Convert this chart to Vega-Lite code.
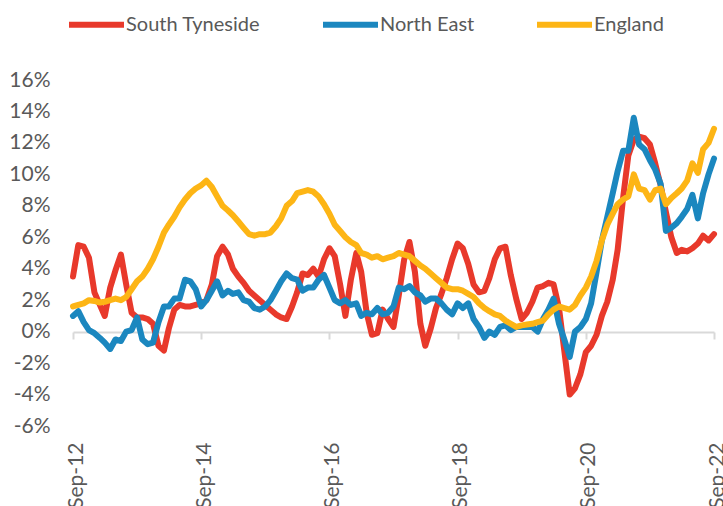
{
"$schema":"https://vega.github.io/schema/vega-lite/v6.json",
"width":641,"height":346,
"autosize":{"type":"none"},
"padding":{"left":73,"top":80,"right":9,"bottom":80},
"background":"white",
"config":{"view":{"stroke":null},"font":"Lato"},
"data":{"format":{"parse":{"m":"date:'%b-%y'"}},"values":[
{"s":"South Tyneside","m":"Sep-12","v":3.5},{"s":"South Tyneside","m":"Oct-12","v":5.5},{"s":"South Tyneside","m":"Nov-12","v":5.4},{"s":"South Tyneside","m":"Dec-12","v":4.7},
{"s":"South Tyneside","m":"Jan-13","v":2.5},{"s":"South Tyneside","m":"Feb-13","v":1.7},{"s":"South Tyneside","m":"Mar-13","v":1.0},{"s":"South Tyneside","m":"Apr-13","v":2.8},{"s":"South Tyneside","m":"May-13","v":3.9},{"s":"South Tyneside","m":"Jun-13","v":4.9},{"s":"South Tyneside","m":"Jul-13","v":3.0},{"s":"South Tyneside","m":"Aug-13","v":1.2},{"s":"South Tyneside","m":"Sep-13","v":0.9},{"s":"South Tyneside","m":"Oct-13","v":0.9},{"s":"South Tyneside","m":"Nov-13","v":0.8},{"s":"South Tyneside","m":"Dec-13","v":0.5},
{"s":"South Tyneside","m":"Jan-14","v":-0.9},{"s":"South Tyneside","m":"Feb-14","v":-1.2},{"s":"South Tyneside","m":"Mar-14","v":0.2},{"s":"South Tyneside","m":"Apr-14","v":1.4},{"s":"South Tyneside","m":"May-14","v":1.7},{"s":"South Tyneside","m":"Jun-14","v":1.6},{"s":"South Tyneside","m":"Jul-14","v":1.6},{"s":"South Tyneside","m":"Aug-14","v":1.7},{"s":"South Tyneside","m":"Sep-14","v":1.8},{"s":"South Tyneside","m":"Oct-14","v":2.0},{"s":"South Tyneside","m":"Nov-14","v":3.0},{"s":"South Tyneside","m":"Dec-14","v":4.8},
{"s":"South Tyneside","m":"Jan-15","v":5.4},{"s":"South Tyneside","m":"Feb-15","v":4.9},{"s":"South Tyneside","m":"Mar-15","v":4.0},{"s":"South Tyneside","m":"Apr-15","v":3.5},{"s":"South Tyneside","m":"May-15","v":3.1},{"s":"South Tyneside","m":"Jun-15","v":2.6},{"s":"South Tyneside","m":"Jul-15","v":2.3},{"s":"South Tyneside","m":"Aug-15","v":2.0},{"s":"South Tyneside","m":"Sep-15","v":1.7},{"s":"South Tyneside","m":"Oct-15","v":1.4},{"s":"South Tyneside","m":"Nov-15","v":1.1},{"s":"South Tyneside","m":"Dec-15","v":0.9},
{"s":"South Tyneside","m":"Jan-16","v":0.8},{"s":"South Tyneside","m":"Feb-16","v":1.6},{"s":"South Tyneside","m":"Mar-16","v":2.5},{"s":"South Tyneside","m":"Apr-16","v":3.7},{"s":"South Tyneside","m":"May-16","v":3.6},{"s":"South Tyneside","m":"Jun-16","v":4.0},{"s":"South Tyneside","m":"Jul-16","v":3.5},{"s":"South Tyneside","m":"Aug-16","v":4.6},{"s":"South Tyneside","m":"Sep-16","v":5.3},{"s":"South Tyneside","m":"Oct-16","v":4.8},{"s":"South Tyneside","m":"Nov-16","v":3.0},{"s":"South Tyneside","m":"Dec-16","v":1.0},
{"s":"South Tyneside","m":"Jan-17","v":3.3},{"s":"South Tyneside","m":"Feb-17","v":5.0},{"s":"South Tyneside","m":"Mar-17","v":3.8},{"s":"South Tyneside","m":"Apr-17","v":1.2},{"s":"South Tyneside","m":"May-17","v":-0.2},{"s":"South Tyneside","m":"Jun-17","v":-0.1},{"s":"South Tyneside","m":"Jul-17","v":1.4},{"s":"South Tyneside","m":"Aug-17","v":0.8},{"s":"South Tyneside","m":"Sep-17","v":0.3},{"s":"South Tyneside","m":"Oct-17","v":2.3},{"s":"South Tyneside","m":"Nov-17","v":4.6},{"s":"South Tyneside","m":"Dec-17","v":5.7},
{"s":"South Tyneside","m":"Jan-18","v":3.8},{"s":"South Tyneside","m":"Feb-18","v":0.5},{"s":"South Tyneside","m":"Mar-18","v":-0.9},{"s":"South Tyneside","m":"Apr-18","v":0.2},{"s":"South Tyneside","m":"May-18","v":1.5},{"s":"South Tyneside","m":"Jun-18","v":2.4},{"s":"South Tyneside","m":"Jul-18","v":3.4},{"s":"South Tyneside","m":"Aug-18","v":4.6},{"s":"South Tyneside","m":"Sep-18","v":5.6},{"s":"South Tyneside","m":"Oct-18","v":5.3},{"s":"South Tyneside","m":"Nov-18","v":4.3},{"s":"South Tyneside","m":"Dec-18","v":3.0},
{"s":"South Tyneside","m":"Jan-19","v":2.5},{"s":"South Tyneside","m":"Feb-19","v":2.6},{"s":"South Tyneside","m":"Mar-19","v":3.4},{"s":"South Tyneside","m":"Apr-19","v":4.6},{"s":"South Tyneside","m":"May-19","v":5.3},{"s":"South Tyneside","m":"Jun-19","v":5.4},{"s":"South Tyneside","m":"Jul-19","v":3.6},{"s":"South Tyneside","m":"Aug-19","v":2.1},{"s":"South Tyneside","m":"Sep-19","v":0.8},{"s":"South Tyneside","m":"Oct-19","v":1.2},{"s":"South Tyneside","m":"Nov-19","v":1.9},{"s":"South Tyneside","m":"Dec-19","v":2.8},
{"s":"South Tyneside","m":"Jan-20","v":2.9},{"s":"South Tyneside","m":"Feb-20","v":3.1},{"s":"South Tyneside","m":"Mar-20","v":3.0},{"s":"South Tyneside","m":"Apr-20","v":1.5},{"s":"South Tyneside","m":"May-20","v":-1.2},{"s":"South Tyneside","m":"Jun-20","v":-4.0},{"s":"South Tyneside","m":"Jul-20","v":-3.6},{"s":"South Tyneside","m":"Aug-20","v":-2.7},{"s":"South Tyneside","m":"Sep-20","v":-1.3},{"s":"South Tyneside","m":"Oct-20","v":-0.9},{"s":"South Tyneside","m":"Nov-20","v":-0.2},{"s":"South Tyneside","m":"Dec-20","v":1.0},
{"s":"South Tyneside","m":"Jan-21","v":1.9},{"s":"South Tyneside","m":"Feb-21","v":3.3},{"s":"South Tyneside","m":"Mar-21","v":5.2},{"s":"South Tyneside","m":"Apr-21","v":8.5},{"s":"South Tyneside","m":"May-21","v":11.2},{"s":"South Tyneside","m":"Jun-21","v":12.2},{"s":"South Tyneside","m":"Jul-21","v":12.4},{"s":"South Tyneside","m":"Aug-21","v":12.3},{"s":"South Tyneside","m":"Sep-21","v":11.9},{"s":"South Tyneside","m":"Oct-21","v":10.7},{"s":"South Tyneside","m":"Nov-21","v":9.3},{"s":"South Tyneside","m":"Dec-21","v":7.6},
{"s":"South Tyneside","m":"Jan-22","v":6.0},{"s":"South Tyneside","m":"Feb-22","v":5.0},{"s":"South Tyneside","m":"Mar-22","v":5.2},{"s":"South Tyneside","m":"Apr-22","v":5.1},{"s":"South Tyneside","m":"May-22","v":5.3},{"s":"South Tyneside","m":"Jun-22","v":5.6},{"s":"South Tyneside","m":"Jul-22","v":6.1},{"s":"South Tyneside","m":"Aug-22","v":5.8},{"s":"South Tyneside","m":"Sep-22","v":6.2},
{"s":"North East","m":"Sep-12","v":1.0},{"s":"North East","m":"Oct-12","v":1.3},{"s":"North East","m":"Nov-12","v":0.6},{"s":"North East","m":"Dec-12","v":0.1},
{"s":"North East","m":"Jan-13","v":-0.1},{"s":"North East","m":"Feb-13","v":-0.4},{"s":"North East","m":"Mar-13","v":-0.7},{"s":"North East","m":"Apr-13","v":-1.1},{"s":"North East","m":"May-13","v":-0.5},{"s":"North East","m":"Jun-13","v":-0.6},{"s":"North East","m":"Jul-13","v":0.0},{"s":"North East","m":"Aug-13","v":0.1},{"s":"North East","m":"Sep-13","v":0.9},{"s":"North East","m":"Oct-13","v":-0.5},{"s":"North East","m":"Nov-13","v":-0.8},{"s":"North East","m":"Dec-13","v":-0.7},
{"s":"North East","m":"Jan-14","v":0.6},{"s":"North East","m":"Feb-14","v":1.6},{"s":"North East","m":"Mar-14","v":1.6},{"s":"North East","m":"Apr-14","v":2.1},{"s":"North East","m":"May-14","v":2.1},{"s":"North East","m":"Jun-14","v":3.3},{"s":"North East","m":"Jul-14","v":3.2},{"s":"North East","m":"Aug-14","v":2.7},{"s":"North East","m":"Sep-14","v":1.6},{"s":"North East","m":"Oct-14","v":2.0},{"s":"North East","m":"Nov-14","v":2.6},{"s":"North East","m":"Dec-14","v":3.2},
{"s":"North East","m":"Jan-15","v":2.3},{"s":"North East","m":"Feb-15","v":2.6},{"s":"North East","m":"Mar-15","v":2.4},{"s":"North East","m":"Apr-15","v":2.5},{"s":"North East","m":"May-15","v":2.0},{"s":"North East","m":"Jun-15","v":1.9},{"s":"North East","m":"Jul-15","v":1.5},{"s":"North East","m":"Aug-15","v":1.4},{"s":"North East","m":"Sep-15","v":1.6},{"s":"North East","m":"Oct-15","v":2.0},{"s":"North East","m":"Nov-15","v":2.6},{"s":"North East","m":"Dec-15","v":3.2},
{"s":"North East","m":"Jan-16","v":3.7},{"s":"North East","m":"Feb-16","v":3.4},{"s":"North East","m":"Mar-16","v":3.3},{"s":"North East","m":"Apr-16","v":2.6},{"s":"North East","m":"May-16","v":2.8},{"s":"North East","m":"Jun-16","v":2.8},{"s":"North East","m":"Jul-16","v":3.3},{"s":"North East","m":"Aug-16","v":3.6},{"s":"North East","m":"Sep-16","v":2.8},{"s":"North East","m":"Oct-16","v":2.0},{"s":"North East","m":"Nov-16","v":1.8},{"s":"North East","m":"Dec-16","v":2.0},
{"s":"North East","m":"Jan-17","v":1.7},{"s":"North East","m":"Feb-17","v":1.8},{"s":"North East","m":"Mar-17","v":1.0},{"s":"North East","m":"Apr-17","v":1.2},{"s":"North East","m":"May-17","v":1.1},{"s":"North East","m":"Jun-17","v":1.5},{"s":"North East","m":"Jul-17","v":1.1},{"s":"North East","m":"Aug-17","v":1.2},{"s":"North East","m":"Sep-17","v":1.6},{"s":"North East","m":"Oct-17","v":2.8},{"s":"North East","m":"Nov-17","v":2.7},{"s":"North East","m":"Dec-17","v":2.9},
{"s":"North East","m":"Jan-18","v":2.5},{"s":"North East","m":"Feb-18","v":2.3},{"s":"North East","m":"Mar-18","v":1.9},{"s":"North East","m":"Apr-18","v":2.1},{"s":"North East","m":"May-18","v":2.1},{"s":"North East","m":"Jun-18","v":1.8},{"s":"North East","m":"Jul-18","v":1.4},{"s":"North East","m":"Aug-18","v":1.1},{"s":"North East","m":"Sep-18","v":1.8},{"s":"North East","m":"Oct-18","v":1.5},{"s":"North East","m":"Nov-18","v":1.8},{"s":"North East","m":"Dec-18","v":0.8},
{"s":"North East","m":"Jan-19","v":0.3},{"s":"North East","m":"Feb-19","v":-0.4},{"s":"North East","m":"Mar-19","v":0.0},{"s":"North East","m":"Apr-19","v":-0.2},{"s":"North East","m":"May-19","v":0.3},{"s":"North East","m":"Jun-19","v":0.4},{"s":"North East","m":"Jul-19","v":0.1},{"s":"North East","m":"Aug-19","v":0.3},{"s":"North East","m":"Sep-19","v":0.3},{"s":"North East","m":"Oct-19","v":0.3},{"s":"North East","m":"Nov-19","v":0.3},{"s":"North East","m":"Dec-19","v":0.0},
{"s":"North East","m":"Jan-20","v":0.8},{"s":"North East","m":"Feb-20","v":1.4},{"s":"North East","m":"Mar-20","v":2.1},{"s":"North East","m":"Apr-20","v":0.5},{"s":"North East","m":"May-20","v":-0.5},{"s":"North East","m":"Jun-20","v":-1.6},{"s":"North East","m":"Jul-20","v":0.0},{"s":"North East","m":"Aug-20","v":0.3},{"s":"North East","m":"Sep-20","v":0.8},{"s":"North East","m":"Oct-20","v":1.8},{"s":"North East","m":"Nov-20","v":3.8},{"s":"North East","m":"Dec-20","v":5.8},
{"s":"North East","m":"Jan-21","v":7.3},{"s":"North East","m":"Feb-21","v":8.8},{"s":"North East","m":"Mar-21","v":10.2},{"s":"North East","m":"Apr-21","v":11.5},{"s":"North East","m":"May-21","v":11.5},{"s":"North East","m":"Jun-21","v":13.6},{"s":"North East","m":"Jul-21","v":11.9},{"s":"North East","m":"Aug-21","v":11.6},{"s":"North East","m":"Sep-21","v":10.9},{"s":"North East","m":"Oct-21","v":10.3},{"s":"North East","m":"Nov-21","v":9.4},{"s":"North East","m":"Dec-21","v":6.4},
{"s":"North East","m":"Jan-22","v":6.6},{"s":"North East","m":"Feb-22","v":6.9},{"s":"North East","m":"Mar-22","v":7.3},{"s":"North East","m":"Apr-22","v":7.8},{"s":"North East","m":"May-22","v":8.7},{"s":"North East","m":"Jun-22","v":7.2},{"s":"North East","m":"Jul-22","v":8.8},{"s":"North East","m":"Aug-22","v":10.0},{"s":"North East","m":"Sep-22","v":11.0},
{"s":"England","m":"Sep-12","v":1.6},{"s":"England","m":"Oct-12","v":1.7},{"s":"England","m":"Nov-12","v":1.8},{"s":"England","m":"Dec-12","v":2.0},
{"s":"England","m":"Jan-13","v":1.95},{"s":"England","m":"Feb-13","v":1.85},{"s":"England","m":"Mar-13","v":1.9},{"s":"England","m":"Apr-13","v":2.0},{"s":"England","m":"May-13","v":2.1},{"s":"England","m":"Jun-13","v":2.0},{"s":"England","m":"Jul-13","v":2.2},{"s":"England","m":"Aug-13","v":2.7},{"s":"England","m":"Sep-13","v":3.2},{"s":"England","m":"Oct-13","v":3.5},{"s":"England","m":"Nov-13","v":4.0},{"s":"England","m":"Dec-13","v":4.6},
{"s":"England","m":"Jan-14","v":5.4},{"s":"England","m":"Feb-14","v":6.3},{"s":"England","m":"Mar-14","v":6.8},{"s":"England","m":"Apr-14","v":7.3},{"s":"England","m":"May-14","v":7.9},{"s":"England","m":"Jun-14","v":8.4},{"s":"England","m":"Jul-14","v":8.8},{"s":"England","m":"Aug-14","v":9.1},{"s":"England","m":"Sep-14","v":9.3},{"s":"England","m":"Oct-14","v":9.6},{"s":"England","m":"Nov-14","v":9.2},{"s":"England","m":"Dec-14","v":8.6},
{"s":"England","m":"Jan-15","v":8.0},{"s":"England","m":"Feb-15","v":7.7},{"s":"England","m":"Mar-15","v":7.4},{"s":"England","m":"Apr-15","v":7.0},{"s":"England","m":"May-15","v":6.6},{"s":"England","m":"Jun-15","v":6.2},{"s":"England","m":"Jul-15","v":6.1},{"s":"England","m":"Aug-15","v":6.2},{"s":"England","m":"Sep-15","v":6.2},{"s":"England","m":"Oct-15","v":6.3},{"s":"England","m":"Nov-15","v":6.7},{"s":"England","m":"Dec-15","v":7.2},
{"s":"England","m":"Jan-16","v":8.0},{"s":"England","m":"Feb-16","v":8.3},{"s":"England","m":"Mar-16","v":8.8},{"s":"England","m":"Apr-16","v":8.9},{"s":"England","m":"May-16","v":9.0},{"s":"England","m":"Jun-16","v":8.9},{"s":"England","m":"Jul-16","v":8.6},{"s":"England","m":"Aug-16","v":8.1},{"s":"England","m":"Sep-16","v":7.5},{"s":"England","m":"Oct-16","v":6.8},{"s":"England","m":"Nov-16","v":6.4},{"s":"England","m":"Dec-16","v":6.0},
{"s":"England","m":"Jan-17","v":5.7},{"s":"England","m":"Feb-17","v":5.5},{"s":"England","m":"Mar-17","v":5.0},{"s":"England","m":"Apr-17","v":4.9},{"s":"England","m":"May-17","v":4.7},{"s":"England","m":"Jun-17","v":4.8},{"s":"England","m":"Jul-17","v":4.6},{"s":"England","m":"Aug-17","v":4.7},{"s":"England","m":"Sep-17","v":4.8},{"s":"England","m":"Oct-17","v":5.0},{"s":"England","m":"Nov-17","v":4.9},{"s":"England","m":"Dec-17","v":4.8},
{"s":"England","m":"Jan-18","v":4.5},{"s":"England","m":"Feb-18","v":4.2},{"s":"England","m":"Mar-18","v":4.0},{"s":"England","m":"Apr-18","v":3.7},{"s":"England","m":"May-18","v":3.4},{"s":"England","m":"Jun-18","v":3.1},{"s":"England","m":"Jul-18","v":2.8},{"s":"England","m":"Aug-18","v":2.7},{"s":"England","m":"Sep-18","v":2.7},{"s":"England","m":"Oct-18","v":2.6},{"s":"England","m":"Nov-18","v":2.4},{"s":"England","m":"Dec-18","v":2.2},
{"s":"England","m":"Jan-19","v":1.8},{"s":"England","m":"Feb-19","v":1.5},{"s":"England","m":"Mar-19","v":1.3},{"s":"England","m":"Apr-19","v":1.1},{"s":"England","m":"May-19","v":1.0},{"s":"England","m":"Jun-19","v":0.7},{"s":"England","m":"Jul-19","v":0.5},{"s":"England","m":"Aug-19","v":0.3},{"s":"England","m":"Sep-19","v":0.4},{"s":"England","m":"Oct-19","v":0.45},{"s":"England","m":"Nov-19","v":0.5},{"s":"England","m":"Dec-19","v":0.6},
{"s":"England","m":"Jan-20","v":0.7},{"s":"England","m":"Feb-20","v":1.1},{"s":"England","m":"Mar-20","v":1.4},{"s":"England","m":"Apr-20","v":1.6},{"s":"England","m":"May-20","v":1.5},{"s":"England","m":"Jun-20","v":1.4},{"s":"England","m":"Jul-20","v":1.7},{"s":"England","m":"Aug-20","v":2.3},{"s":"England","m":"Sep-20","v":2.8},{"s":"England","m":"Oct-20","v":3.5},{"s":"England","m":"Nov-20","v":4.5},{"s":"England","m":"Dec-20","v":5.8},
{"s":"England","m":"Jan-21","v":6.8},{"s":"England","m":"Feb-21","v":7.5},{"s":"England","m":"Mar-21","v":8.1},{"s":"England","m":"Apr-21","v":8.4},{"s":"England","m":"May-21","v":8.6},{"s":"England","m":"Jun-21","v":10.0},{"s":"England","m":"Jul-21","v":9.1},{"s":"England","m":"Aug-21","v":9.0},{"s":"England","m":"Sep-21","v":8.4},{"s":"England","m":"Oct-21","v":9.0},{"s":"England","m":"Nov-21","v":9.1},{"s":"England","m":"Dec-21","v":8.1},
{"s":"England","m":"Jan-22","v":8.5},{"s":"England","m":"Feb-22","v":8.8},{"s":"England","m":"Mar-22","v":9.1},{"s":"England","m":"Apr-22","v":9.6},{"s":"England","m":"May-22","v":10.7},{"s":"England","m":"Jun-22","v":10.1},{"s":"England","m":"Jul-22","v":11.6},{"s":"England","m":"Aug-22","v":12.0},{"s":"England","m":"Sep-22","v":12.9}
]},
"mark":{"type":"line","strokeWidth":6,"strokeCap":"round","strokeJoin":"round"},
"encoding":{
"x":{"field":"m","type":"temporal",
"scale":{"domain":[{"year":2012,"month":"sep","date":1},{"year":2022,"month":"sep","date":1}],"nice":false},
"axis":{"title":null,"values":[{"year":2012,"month":"sep","date":1},{"year":2014,"month":"sep","date":1},{"year":2016,"month":"sep","date":1},{"year":2018,"month":"sep","date":1},{"year":2020,"month":"sep","date":1},{"year":2022,"month":"sep","date":1}],
"format":"%b-%y","labelAngle":-90,"labelFontSize":21,"labelColor":"#595959","labelFlush":false,"labelOverlap":false,"labelBound":false,"labelOffset":3,
"domainColor":"#D9D9D9","domainWidth":2,"tickColor":"#D9D9D9","tickWidth":2,"tickSize":7,"offset":-94,"labelPadding":103,"grid":false}},
"y":{"field":"v","type":"quantitative",
"scale":{"domain":[-6,16],"nice":false,"zero":false},
"axis":{"title":null,"values":[-6,-4,-2,0,2,4,6,8,10,12,14,16],"labelExpr":"datum.value + '%'","grid":false,"domain":false,"ticks":false,"labelFontSize":21,"labelColor":"#595959","labelPadding":23}},
"color":{"field":"s","type":"nominal",
"scale":{"domain":["South Tyneside","North East","England"],"range":["#E8392B","#1B87BF","#FDB515"]},
"legend":{"title":null,"orient":"none","legendX":-7,"legendY":-86,"direction":"horizontal","symbolType":"stroke","symbolSize":3025,"symbolStrokeWidth":6,"labelFontSize":20,"labelColor":"#595959","labelOffset":-1,"columnPadding":50,"padding":0}}
}
}
